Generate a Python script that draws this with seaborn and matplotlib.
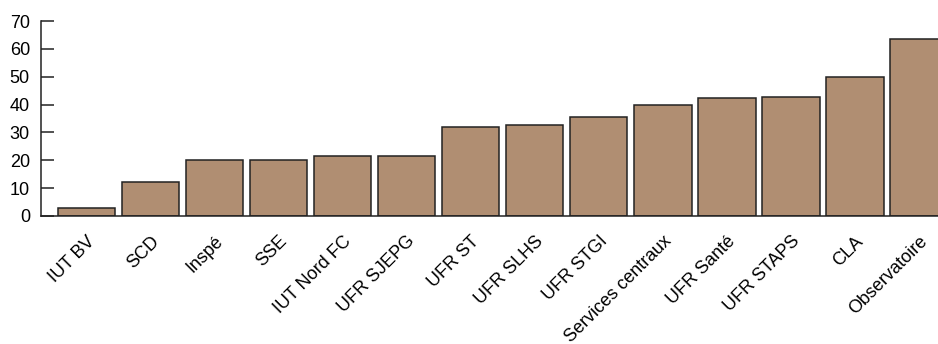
import matplotlib
matplotlib.use("Agg")
import matplotlib.pyplot as plt
import seaborn as sns
import pandas as pd

# Data
composantes = ["IUT BV", "SCD", "Inspé", "SSE", "IUT Nord FC", "UFR SJEPG", "UFR ST",
               "UFR SLHS", "UFR STGI", "Services centraux", "UFR Santé", "UFR STAPS",
               "CLA", "Observatoire"]
valeurs = [3.0, 12.2, 20.0, 20.0, 21.5, 21.5, 31.8, 32.7, 35.6, 39.7, 42.5, 42.8, 49.9, 63.5]
y_ticks = [0, 10, 20, 30, 40, 50, 60, 70]

df = pd.DataFrame({"composante": composantes, "valeur": valeurs})

sns.set_style("white")
plt.rcParams["font.family"] = ["Liberation Sans", "DejaVu Sans"]

fig = plt.figure(figsize=(9.38, 3.44), dpi=100)
ax = fig.add_axes([41 / 938, 1 - 216 / 344, 1 - 41 / 938, 195 / 344])

sns.barplot(data=df, x="composante", y="valeur", color="#B08E72", saturation=1,
            width=0.9, edgecolor="#222222", linewidth=1.1, ax=ax)

ax.set_ylim(0, 70)
ax.set_xlim(-0.71, 13.30)
ax.set_yticks(y_ticks)
ax.set_xlabel("")
ax.set_ylabel("")

ax.tick_params(axis="y", direction="in", length=9, width=1.1, color="#222222",
               labelsize=13, labelcolor="black", pad=8, left=True)
ax.tick_params(axis="x", length=0, labelsize=13, labelcolor="black", pad=12)
plt.setp(ax.get_xticklabels(), rotation=45, ha="right", rotation_mode="anchor")

for side in ["top", "right"]:
    ax.spines[side].set_visible(False)
for side in ["left", "bottom"]:
    ax.spines[side].set_color("#222222")
    ax.spines[side].set_linewidth(1.1)

fig.savefig("out.png", dpi=100)
